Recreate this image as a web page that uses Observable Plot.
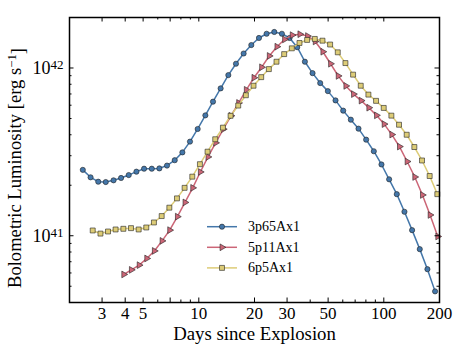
<!DOCTYPE html>
<html><head><meta charset="utf-8">
<script src="https://cdn.jsdelivr.net/npm/d3@7"></script>
<script src="https://cdn.jsdelivr.net/npm/@observablehq/plot@0.6"></script>
<style>body{margin:0;background:#fff} svg{display:block}</style>
</head><body><div id="chart"></div>
<script>
const seriesNames = ["3p65Ax1", "5p11Ax1", "6p5Ax1"];
const seriesColors = ["#4477AA", "#CC6677", "#DDCC77"];

const days3p65 = [2.36,2.60,2.86,3.14,3.46,3.80,4.18,4.60,5.06,5.57,6.12,6.73,7.41,8.15,8.96,9.86,10.85,11.93,13.12,14.44,15.88,17.47,19.22,21.14,23.25,25.58,28.13,30.95,34.04,37.45,41.19,45.31,49.84,54.83,60.31,66.34,72.98,80.27,88.30,97.13,106.85,117.53,129.29,142.21,156.44,172.08,189.29];
const lum3p65 = [2.47e41,2.23e41,2.10e41,2.09e41,2.14e41,2.21e41,2.30e41,2.41e41,2.51e41,2.51e41,2.52e41,2.62e41,2.82e41,3.14e41,3.64e41,4.33e41,5.22e41,6.30e41,7.56e41,9.07e41,1.06e42,1.22e42,1.37e42,1.51e42,1.60e42,1.64e42,1.60e42,1.51e42,1.33e42,1.09e42,9.32e41,8.13e41,7.28e41,6.41e41,5.57e41,4.92e41,4.35e41,3.74e41,3.19e41,2.66e41,2.17e41,1.77e41,1.39e41,1.08e41,8.32e40,6.32e40,4.66e40];

const days5p11 = [3.93,4.32,4.76,5.23,5.75,6.33,6.96,7.66,8.42,9.27,10.19,11.21,12.33,13.57,14.92,16.42,18.06,19.86,21.85,24.04,26.44,29.08,31.99,35.19,38.71,42.58,46.84,51.53,56.68,62.35,68.58,75.44,82.99,91.29,100.42,110.46,121.50,133.65,147.02,161.72,177.89,195.68];
const lum5p11 = [5.88e40,6.26e40,6.68e40,7.32e40,8.12e40,9.32e40,1.08e41,1.30e41,1.58e41,1.93e41,2.40e41,2.95e41,3.58e41,4.32e41,5.19e41,6.19e41,7.41e41,8.75e41,1.01e42,1.18e42,1.34e42,1.48e42,1.57e42,1.59e42,1.55e42,1.44e42,1.25e42,1.06e42,8.97e41,7.82e41,6.99e41,6.39e41,5.80e41,5.22e41,4.63e41,4.01e41,3.40e41,2.77e41,2.24e41,1.75e41,1.33e41,9.90e40];

const days6p5 = [2.67,2.94,3.23,3.55,3.91,4.30,4.73,5.20,5.72,6.30,6.93,7.62,8.38,9.22,10.14,11.15,12.27,13.50,14.85,16.33,17.96,19.76,21.74,23.91,26.30,28.93,31.83,35.01,38.51,42.36,46.60,51.26,56.38,62.02,68.22,75.05,82.55,90.81,99.89,109.88,120.86,132.95,146.25,160.87,176.96,194.65];
const lum6p5 = [1.075e41,1.03e41,1.06e41,1.09e41,1.10e41,1.11e41,1.09e41,1.12e41,1.20e41,1.31e41,1.47e41,1.67e41,1.93e41,2.25e41,2.67e41,3.17e41,3.76e41,4.41e41,5.19e41,5.97e41,6.88e41,7.84e41,8.82e41,9.85e41,1.09e42,1.21e42,1.31e42,1.41e42,1.47e42,1.49e42,1.455e42,1.38e42,1.24e42,1.07e42,9.13e41,7.84e41,6.94e41,6.37e41,5.78e41,5.20e41,4.59e41,4.00e41,3.38e41,2.81e41,2.27e41,1.77e41];

const xMajorTicks = [3, 4, 5, 7, 10, 20, 30, 50, 100, 200];
const xMinorTicks = [6, 8, 9, 40, 60, 70, 80, 90];
const yMajorTicks = [1e41, 1e42];
const yMinorTicks = [5e40,6e40,7e40,8e40,9e40,2e41,3e41,4e41,5e41,6e41,7e41,8e41,9e41];
const xLabel = "Days since Explosion";
const yLabel = "Bolometric Luminosity [erg s^-1]";

const W = 463, H = 348, mL = 69, mR = 24, mT = 17, mB = 46;
const innerW = W - mL - mR, innerH = H - mT - mB;
const majLen = 4.5, minLen = 2.5;

const triangleRight = {draw(ctx, size) {
  const R = Math.sqrt(size / 1.299);
  ctx.moveTo(R, 0); ctx.lineTo(-R / 2, R * 0.866); ctx.lineTo(-R / 2, -R * 0.866); ctx.closePath();
}};
const symbols = ["circle", triangleRight, "square"];
const radii = [2.6, 2.5, 2.8];

const series = [[days3p65, lum3p65], [days5p11, lum5p11], [days6p5, lum6p5]]
  .map(([d, l]) => d.map((day, i) => ({day, lum: l[i]})));

const marks = [];
series.forEach((rows, i) => {
  marks.push(Plot.line(rows, {x: "day", y: "lum", stroke: seriesColors[i], strokeWidth: 1.5}));
  marks.push(Plot.dot(rows, {x: "day", y: "lum", fill: seriesColors[i], stroke: "#222", strokeWidth: 0.6, r: radii[i], symbol: symbols[i]}));
});

const plot = Plot.plot({
  width: W, height: H,
  marginLeft: mL, marginRight: mR, marginTop: mT, marginBottom: mB,
  style: {background: "white", fontFamily: "'Liberation Serif', 'Times New Roman', serif", fontSize: "17px", color: "black"},
  x: {type: "log", domain: [2, 200]},
  y: {type: "log", domain: [4e40, 2e42]},
  marks: [
    ...marks,
    Plot.tickX(xMajorTicks, {x: d => d, insetTop: innerH - majLen, stroke: "black"}),
    Plot.tickX(xMajorTicks, {x: d => d, insetBottom: innerH - majLen, stroke: "black"}),
    Plot.tickX(xMinorTicks, {x: d => d, insetTop: innerH - minLen, stroke: "black"}),
    Plot.tickX(xMinorTicks, {x: d => d, insetBottom: innerH - minLen, stroke: "black"}),
    Plot.tickY(yMajorTicks, {y: d => d, insetRight: innerW - majLen, stroke: "black"}),
    Plot.tickY(yMajorTicks, {y: d => d, insetLeft: innerW - majLen, stroke: "black"}),
    Plot.tickY(yMinorTicks, {y: d => d, insetRight: innerW - minLen, stroke: "black"}),
    Plot.tickY(yMinorTicks, {y: d => d, insetLeft: innerW - minLen, stroke: "black"}),
    Plot.axisX({ticks: xMajorTicks, tickSize: 0, tickPadding: 4, tickFormat: d => String(d), fontSize: 17, label: null}),
    Plot.axisY({ticks: yMajorTicks, tickSize: 0, tickPadding: 6, tickFormat: d => "10^" + Math.round(Math.log10(d)), fontSize: 18, label: null}),
    Plot.text([xLabel], {frameAnchor: "bottom", textAnchor: "middle", lineAnchor: "bottom", text: d => d, dy: 37, fontSize: 18.8}),
    Plot.text([yLabel], {frameAnchor: "left", textAnchor: "middle", lineAnchor: "middle", text: d => d, rotate: -90, dx: -54, dy: 8, fontSize: 18.6}),
    Plot.frame({stroke: "black", strokeWidth: 1.5})
  ]
});

// superscripts
d3.select(plot).selectAll("text").each(function() {
  const t = this.textContent;
  const m = t.match(/^10\^(\d+)$/);
  if (m) {
    this.textContent = "10";
    d3.select(this).append("tspan").attr("dy", "-0.36em").attr("font-size", "13px").text(m[1]);
  } else if (t.includes("^-1]")) {
    this.textContent = t.replace("^-1]", "");
    d3.select(this).append("tspan").attr("dy", "-0.42em").attr("font-size", "12.8px").text("\u22121");
    d3.select(this).append("tspan").attr("dy", "0.42em").text("]");
  }
});

// legend
const svg = d3.select(plot);
const lg = svg.append("g").attr("font-family", "'Liberation Serif', 'Times New Roman', serif").attr("font-size", "14px").attr("text-anchor", "start");
seriesNames.forEach((name, i) => {
  const y = 226.7 + i * 20.6;
  lg.append("line").attr("x1", 207).attr("x2", 237).attr("y1", y).attr("y2", y)
    .attr("stroke", seriesColors[i]).attr("stroke-width", 1.5);
  const type = symbols[i] === "circle" ? d3.symbolCircle : symbols[i] === "square" ? d3.symbolSquare : symbols[i];
  lg.append("path").attr("transform", `translate(222,${y})`)
    .attr("d", d3.symbol(type, Math.PI * radii[i] * radii[i])())
    .attr("fill", seriesColors[i]).attr("stroke", "#222").attr("stroke-width", 0.6);
  lg.append("text").attr("x", 248).attr("y", y).attr("dy", "0.32em").attr("text-anchor", "start").attr("fill", "black").text(name);
});

document.getElementById("chart").appendChild(plot);
</script>
</body></html>
